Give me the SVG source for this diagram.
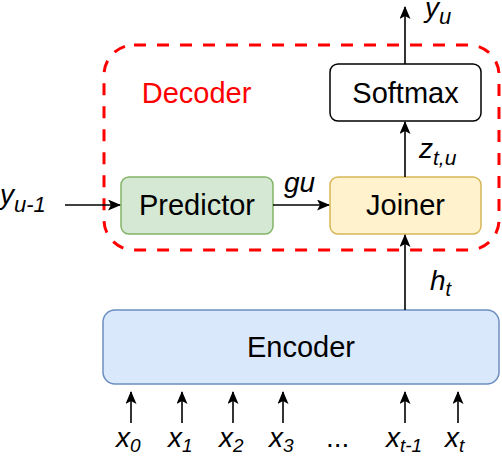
<svg xmlns="http://www.w3.org/2000/svg" width="502" height="456" viewBox="0 0 502 456">
<defs>
<style>
.node{stroke-width:1.5}
.t{font-family:"Liberation Sans",Arial,sans-serif;font-size:29px;fill:#000;text-anchor:middle}
.m{font-family:"Liberation Sans",Arial,sans-serif;font-size:28px;font-style:italic;fill:#000}
.c{stroke:#000;stroke-width:1.6;fill:none;marker-end:url(#ah)}
</style>
<marker id="ah" viewBox="0 0 13 11" refX="12" refY="5.5" markerWidth="13" markerHeight="11" orient="auto" markerUnits="userSpaceOnUse">
<path d="M0,0 L13,5.5 L0,11 L3,5.5 Z" fill="#000"/>
</marker>
</defs>
<rect width="502" height="456" fill="#fff"/>
<g id="decoder">
<rect x="104" y="45" width="395" height="205" rx="30" fill="none" stroke="#ff0000" stroke-width="3" stroke-dasharray="12,11"/>
<text x="196.5" y="103" class="t" style="fill:#ff0000">Decoder</text>
</g>
<g id="softmax">
<rect x="330" y="64" width="151" height="57" rx="8" fill="#fff" stroke="#000" class="node"/>
<text x="405.5" y="103" class="t">Softmax</text>
</g>
<g id="predictor">
<rect x="121" y="177" width="152" height="57" rx="8" fill="#d5e8d4" stroke="#82b366" class="node"/>
<text x="197" y="215" class="t">Predictor</text>
</g>
<g id="joiner">
<rect x="330" y="177" width="151" height="57" rx="8" fill="#fff2cc" stroke="#d6b656" class="node"/>
<text x="405.5" y="215" class="t">Joiner</text>
</g>
<g id="encoder">
<rect x="103" y="310" width="396" height="74" rx="12" fill="#dae8fc" stroke="#6c8ebf" class="node"/>
<text x="301" y="357" class="t">Encoder</text>
</g>
<g id="connectors">
<line x1="65" y1="205" x2="120" y2="205" class="c"/>
<line x1="273" y1="205" x2="329" y2="205" class="c"/>
<line x1="405" y1="310" x2="405" y2="235" class="c"/>
<line x1="405" y1="177" x2="405" y2="122" class="c"/>
<line x1="405" y1="64" x2="405" y2="7" class="c"/>
<line x1="131" y1="423" x2="131" y2="392" class="c"/>
<line x1="182" y1="423" x2="182" y2="392" class="c"/>
<line x1="233" y1="423" x2="233" y2="392" class="c"/>
<line x1="283" y1="423" x2="283" y2="392" class="c"/>
<line x1="405" y1="423" x2="405" y2="392" class="c"/>
<line x1="458" y1="423" x2="458" y2="392" class="c"/>
</g>
<g id="labels">
<text x="425" y="17" class="m">y<tspan dy="7" font-size="22">u</tspan></text>
<text x="419" y="158" class="m">z<tspan dy="7" font-size="21">t,u</tspan></text>
<text x="284" y="192" class="m">gu</text>
<text x="430" y="290" class="m">h<tspan dy="6" font-size="20">t</tspan></text>
<text x="0" y="204" class="m">y<tspan dy="8" font-size="22">u-1</tspan></text>
<text x="116" y="447" class="m">x<tspan dy="5" font-size="19">0</tspan></text>
<text x="168" y="447" class="m">x<tspan dy="5" font-size="19">1</tspan></text>
<text x="219" y="447" class="m">x<tspan dy="5" font-size="19">2</tspan></text>
<text x="269" y="447" class="m">x<tspan dy="5" font-size="19">3</tspan></text>
<text x="326" y="447" class="m" style="font-style:normal">...</text>
<text x="386" y="447" class="m">x<tspan dy="5" font-size="19">t-1</tspan></text>
<text x="445" y="447" class="m">x<tspan dy="5" font-size="19">t</tspan></text>
</g>
</svg>
